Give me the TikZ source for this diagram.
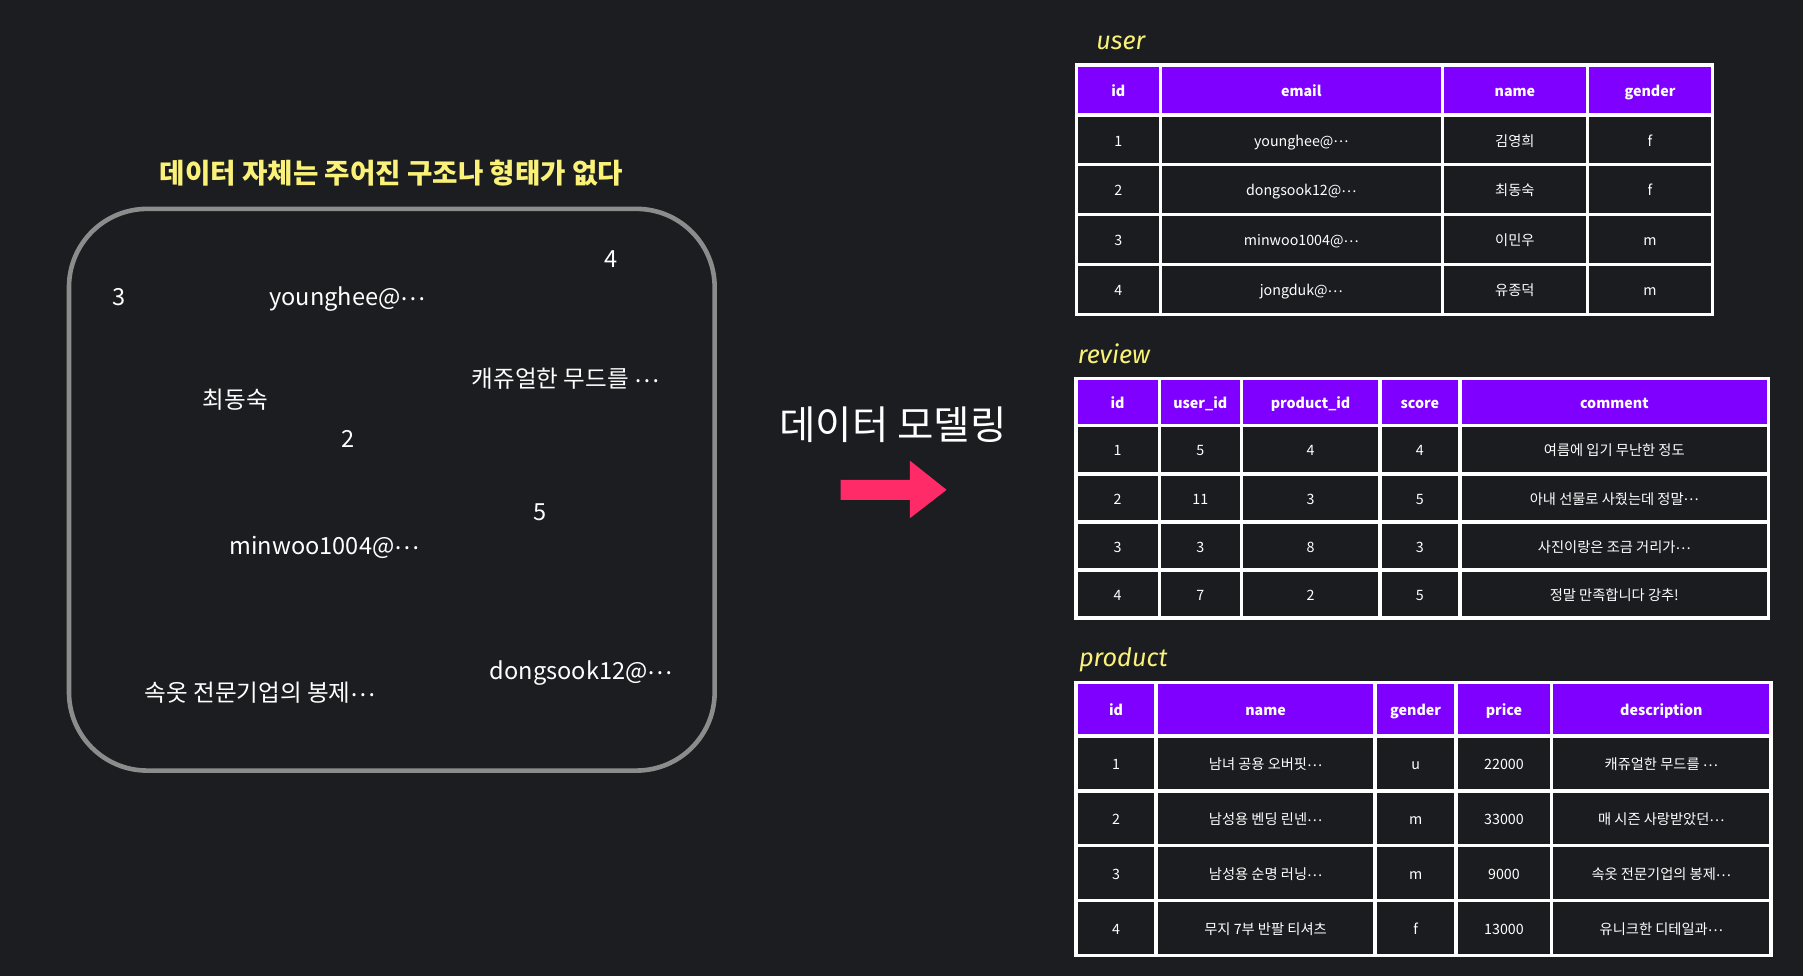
\documentclass[tikz,border=0pt]{standalone}
\usepackage{fontspec}
\setmainfont{Noto Sans CJK KR}
\newfontfamily\labfont{Fira Sans}
\newcommand\midell{\raisebox{0.22em}{…}}
\definecolor{bgc}{RGB}{28,29,33}
\definecolor{cellc}{RGB}{27,28,32}
\definecolor{hdrc}{RGB}{127,0,255}
\definecolor{ylw}{RGB}{250,242,120}
\definecolor{boxgray}{RGB}{140,140,140}
\definecolor{arrowc}{RGB}{255,42,104}
\tikzset{
  cellbox/.style={rectangle, inner sep=0pt, text=white, text height=0.72em, text depth=0.18em, align=center},
  hdrtext/.style={font=\fontsize{6.2}{7}\selectfont\bfseries},
  bodytext/.style={font=\fontsize{6.2}{7}\selectfont},
  freetext/.style={text=white, inner sep=0pt, font=\fontsize{10.25}{12}\selectfont, anchor=base},
  tablabel/.style={text=ylw, inner sep=0pt, font=\labfont\itshape\fontsize{11}{13}\selectfont, anchor=base west},
  tableframe/.style={fill=white},
}
\newcommand\mycell[8]{\node[cellbox,#6,fill=#7,minimum width={(#4-#2-3)*0.5pt},minimum height={(#5-#3-3)*0.5pt}] (#1) at ({(#2+#4)/2},{(#3+#5)/2}) {#8};}
\begin{document}
\begin{tikzpicture}[x=0.5pt,y=-0.5pt]
\fill[bgc] (0,0) rectangle (1568,849);
\useasboundingbox (0,0) rectangle (1568,849);

% ---------- left: unstructured data ----------
\node[text=ylw, inner sep=0pt, font=\bfseries\fontsize{12}{14}\selectfont] (title) at (340.4,150.7) {데이터 자체는 주어진 구조나 형태가 없다};
\node[draw=boxgray, line width=2pt, rounded corners=34pt, minimum width=280.75pt, minimum height=244.25pt, inner sep=0pt] (box) at (340.75,425.9) {};
\node[freetext] (t3) at (103.7,265.8) {3};
\node[freetext] (tyh) at (302.2,265.8) {younghee@\midell};
\node[freetext] (t4) at (531.6,232.5) {4};
\node[freetext] (tcas) at (491.8,337) {캐쥬얼한 무드를 \midell};
\node[freetext] (tchoi) at (204.6,355.5) {최동숙};
\node[freetext] (t2) at (302.6,389) {2};
\node[freetext] (t5) at (469.5,453) {5};
\node[freetext] (tmin) at (282.2,482.6) {minwoo1004@\midell};
\node[freetext] (tsok) at (226.3,610) {속옷 전문기업의 봉제\midell};
\node[freetext] (tdong) at (505.4,591.3) {dongsook12@\midell};

% ---------- middle: modeling arrow ----------
\node[text=white, inner sep=0pt, font=\fontsize{17.2}{20}\selectfont] (model) at (776.5,369.3) {데이터 모델링};
\fill[arrowc] (731,417.4) -- (791.3,417.4) -- (791.3,400.6) -- (823.2,426) -- (791.3,450.7) -- (791.3,434.8) -- (731,434.8) -- cycle;

% ---------- user table ----------
\node[tablabel] (luser) at (953,42.9) {user};
\fill[tableframe] (934.5,55.1) rectangle (1490.7,274.8);
\mycell{uh1}{936}{56.6}{1009}{100}{hdrtext}{hdrc}{id}
\mycell{uh2}{1009}{56.6}{1254.3}{100}{hdrtext}{hdrc}{email}
\mycell{uh3}{1254.3}{56.6}{1380.6}{100}{hdrtext}{hdrc}{name}
\mycell{uh4}{1380.6}{56.6}{1489.2}{100}{hdrtext}{hdrc}{gender}
\foreach \ri/\ya/\yb/\va/\vb/\vc/\vd in {
  1/100/143.3/1/younghee@\midell/김영희/f,
  2/143.3/186.7/2/dongsook12@\midell/최동숙/f,
  3/186.7/230/3/minwoo1004@\midell/이민우/m,
  4/230/273.3/4/jongduk@\midell/유종덕/m}{
  \mycell{u\ri-a}{936}{\ya}{1009}{\yb}{bodytext}{cellc}{\va}
  \mycell{u\ri-b}{1009}{\ya}{1254.3}{\yb}{bodytext}{cellc}{\vb}
  \mycell{u\ri-c}{1254.3}{\ya}{1380.6}{\yb}{bodytext}{cellc}{\vc}
  \mycell{u\ri-d}{1380.6}{\ya}{1489.2}{\yb}{bodytext}{cellc}{\vd}
}

% ---------- review table ----------
\node[tablabel] (lreview) at (937,316) {review};
\fill[tableframe] (934.2,327.5) rectangle (1539.7,539.1);
\mycell{rh1}{935.7}{329}{1008.2}{370.2}{hdrtext}{hdrc}{id}
\mycell{rh2}{1008.2}{329}{1079.5}{370.2}{hdrtext}{hdrc}{user\_id}
\mycell{rh3}{1079.5}{329}{1200}{370.2}{hdrtext}{hdrc}{product\_id}
\mycell{rh4}{1200}{329}{1269.6}{370.2}{hdrtext}{hdrc}{score}
\mycell{rh5}{1269.6}{329}{1538.2}{370.2}{hdrtext}{hdrc}{comment}
\foreach \ri/\ya/\yb/\va/\vb/\vc/\vd/\ve in {
  1/370.2/412.05/1/5/4/4/여름에 입기 무난한 정도,
  2/412.05/453.9/2/11/3/5/아내 선물로 사줬는데 정말\midell,
  3/453.9/495.75/3/3/8/3/사진이랑은 조금 거리가\midell,
  4/495.75/537.6/4/7/2/5/정말 만족합니다 강추!}{
  \mycell{r\ri-a}{935.7}{\ya}{1008.2}{\yb}{bodytext}{cellc}{\va}
  \mycell{r\ri-b}{1008.2}{\ya}{1079.5}{\yb}{bodytext}{cellc}{\vb}
  \mycell{r\ri-c}{1079.5}{\ya}{1200}{\yb}{bodytext}{cellc}{\vc}
  \mycell{r\ri-d}{1200}{\ya}{1269.6}{\yb}{bodytext}{cellc}{\vd}
  \mycell{r\ri-e}{1269.6}{\ya}{1538.2}{\yb}{bodytext}{cellc}{\ve}
}

% ---------- product table ----------
\node[tablabel] (lproduct) at (938,579.7) {product};
\fill[tableframe] (934.2,592.2) rectangle (1541.5,832.5);
\mycell{ph1}{935.7}{593.7}{1005.4}{640}{hdrtext}{hdrc}{id}
\mycell{ph2}{1005.4}{593.7}{1195.8}{640}{hdrtext}{hdrc}{name}
\mycell{ph3}{1195.8}{593.7}{1266.4}{640}{hdrtext}{hdrc}{gender}
\mycell{ph4}{1266.4}{593.7}{1349.5}{640}{hdrtext}{hdrc}{price}
\mycell{ph5}{1349.5}{593.7}{1540}{640}{hdrtext}{hdrc}{description}
\foreach \ri/\ya/\yb/\va/\vb/\vc/\vd/\ve in {
  1/640/687.75/1/남녀 공용 오버핏\midell/u/22000/캐쥬얼한 무드를 \midell,
  2/687.75/735.5/2/남성용 벤딩 린넨\midell/m/33000/매 시즌 사랑받았던\midell,
  3/735.5/783.25/3/남성용 순명 러닝\midell/m/9000/속옷 전문기업의 봉제\midell,
  4/783.25/831/4/무지 7부 반팔 티셔츠/f/13000/유니크한 디테일과\midell}{
  \mycell{p\ri-a}{935.7}{\ya}{1005.4}{\yb}{bodytext}{cellc}{\va}
  \mycell{p\ri-b}{1005.4}{\ya}{1195.8}{\yb}{bodytext}{cellc}{\vb}
  \mycell{p\ri-c}{1195.8}{\ya}{1266.4}{\yb}{bodytext}{cellc}{\vc}
  \mycell{p\ri-d}{1266.4}{\ya}{1349.5}{\yb}{bodytext}{cellc}{\vd}
  \mycell{p\ri-e}{1349.5}{\ya}{1540}{\yb}{bodytext}{cellc}{\ve}
}
\end{tikzpicture}
\end{document}
